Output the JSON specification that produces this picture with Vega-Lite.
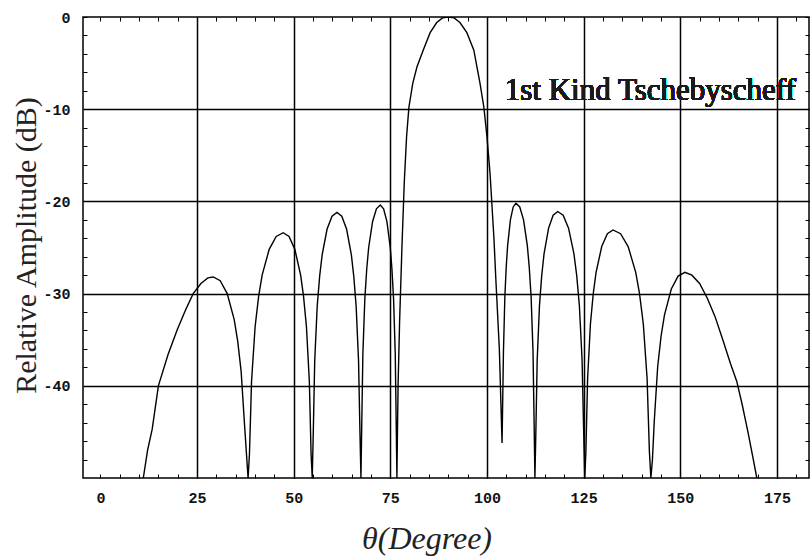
{
  "$schema": "https://vega.github.io/schema/vega-lite/v6.json",
  "width": 726,
  "height": 461,
  "autosize": {"type": "none"},
  "padding": {"left": 83, "top": 17, "right": 1, "bottom": 81},
  "background": "white",
  "config": {
    "view": {"stroke": "black", "strokeWidth": 1.5},
    "axis": {"domain": false, "tickColor": "black", "tickWidth": 1, "labelFont": "Liberation Mono", "labelFontWeight": "bold", "labelFontSize": 15, "labelColor": "#111"}
  },
  "data": {
    "values": [
      {"theta": 11.1, "dB": -50}, {"theta": 12.2, "dB": -47}, {"theta": 13.4, "dB": -44.7}, {"theta": 15, "dB": -40},
      {"theta": 17.5, "dB": -36.6}, {"theta": 19.9, "dB": -33.9}, {"theta": 22, "dB": -31.8}, {"theta": 24, "dB": -30},
      {"theta": 26, "dB": -28.9}, {"theta": 27.8, "dB": -28.3}, {"theta": 29.2, "dB": -28.2}, {"theta": 31, "dB": -28.6},
      {"theta": 32.8, "dB": -30}, {"theta": 34.6, "dB": -32.8}, {"theta": 35.5, "dB": -35.1}, {"theta": 36.4, "dB": -38.4},
      {"theta": 37.3, "dB": -44.3}, {"theta": 38.2, "dB": -50},
      {"theta": 38.56, "dB": -47.4}, {"theta": 39.1, "dB": -39.5}, {"theta": 40.02, "dB": -33.6}, {"theta": 40.93, "dB": -30.3},
      {"theta": 41.84, "dB": -28}, {"theta": 43.66, "dB": -25.2}, {"theta": 45.48, "dB": -23.8}, {"theta": 47.3, "dB": -23.4},
      {"theta": 48.8, "dB": -23.8}, {"theta": 50.3, "dB": -25.2}, {"theta": 51.8, "dB": -28}, {"theta": 52.55, "dB": -30.3},
      {"theta": 53.3, "dB": -33.6}, {"theta": 54.05, "dB": -39.5}, {"theta": 54.5, "dB": -47.4}, {"theta": 54.8, "dB": -50},
      {"theta": 55.06, "dB": -45.2}, {"theta": 55.44, "dB": -37.3}, {"theta": 56.08, "dB": -31.4}, {"theta": 56.72, "dB": -28.1},
      {"theta": 57.36, "dB": -25.8}, {"theta": 58.64, "dB": -23}, {"theta": 59.92, "dB": -21.6}, {"theta": 61.2, "dB": -21.2},
      {"theta": 62.44, "dB": -21.6}, {"theta": 63.68, "dB": -23}, {"theta": 64.92, "dB": -25.8}, {"theta": 65.54, "dB": -28.1},
      {"theta": 66.16, "dB": -31.4}, {"theta": 66.78, "dB": -37.3}, {"theta": 67.15, "dB": -45.2}, {"theta": 67.4, "dB": -50},
      {"theta": 67.6, "dB": -44.4}, {"theta": 67.9, "dB": -36.5}, {"theta": 68.4, "dB": -30.6}, {"theta": 68.9, "dB": -27.3},
      {"theta": 69.4, "dB": -25}, {"theta": 70.4, "dB": -22.2}, {"theta": 71.4, "dB": -20.8}, {"theta": 72.4, "dB": -20.4},
      {"theta": 73.26, "dB": -20.8}, {"theta": 74.12, "dB": -22.2}, {"theta": 74.98, "dB": -25}, {"theta": 75.41, "dB": -27.3},
      {"theta": 75.84, "dB": -30.6}, {"theta": 76.27, "dB": -36.5}, {"theta": 76.53, "dB": -44.4}, {"theta": 76.7, "dB": -50},
      {"theta": 77.0, "dB": -40}, {"theta": 77.4, "dB": -33}, {"theta": 78.0, "dB": -25}, {"theta": 78.6, "dB": -18},
      {"theta": 79.2, "dB": -13}, {"theta": 79.8, "dB": -9.8}, {"theta": 80.8, "dB": -7.2}, {"theta": 81.9, "dB": -5.4},
      {"theta": 83.5, "dB": -3.6}, {"theta": 85.3, "dB": -1.7}, {"theta": 87, "dB": -0.6}, {"theta": 88.5, "dB": -0.1},
      {"theta": 90, "dB": 0}, {"theta": 91.5, "dB": -0.1}, {"theta": 93, "dB": -0.6}, {"theta": 94.8, "dB": -1.7},
      {"theta": 96.6, "dB": -3.6}, {"theta": 98.2, "dB": -7.2}, {"theta": 99.2, "dB": -9.8}, {"theta": 100, "dB": -13},
      {"theta": 100.8, "dB": -17}, {"theta": 101.8, "dB": -24}, {"theta": 102.3, "dB": -28.5}, {"theta": 103.2, "dB": -36},
      {"theta": 103.9, "dB": -46.2},
      {"theta": 104.26, "dB": -36.3}, {"theta": 104.62, "dB": -30.4}, {"theta": 104.98, "dB": -27.1}, {"theta": 105.34, "dB": -24.8},
      {"theta": 106.06, "dB": -22}, {"theta": 106.78, "dB": -20.6}, {"theta": 107.5, "dB": -20.2}, {"theta": 108.48, "dB": -20.6},
      {"theta": 109.46, "dB": -22}, {"theta": 110.44, "dB": -24.8}, {"theta": 110.93, "dB": -27.1}, {"theta": 111.42, "dB": -30.4},
      {"theta": 111.91, "dB": -36.3}, {"theta": 112.2, "dB": -44.2}, {"theta": 112.4, "dB": -50},
      {"theta": 112.64, "dB": -45.1}, {"theta": 112.99, "dB": -37.2}, {"theta": 113.58, "dB": -31.3}, {"theta": 114.17, "dB": -28},
      {"theta": 114.76, "dB": -25.7}, {"theta": 115.94, "dB": -22.9}, {"theta": 117.12, "dB": -21.5}, {"theta": 118.3, "dB": -21.1},
      {"theta": 119.7, "dB": -21.5}, {"theta": 121.1, "dB": -22.9}, {"theta": 122.5, "dB": -25.7}, {"theta": 123.2, "dB": -28},
      {"theta": 123.9, "dB": -31.3}, {"theta": 124.6, "dB": -37.2}, {"theta": 125.02, "dB": -45.1}, {"theta": 125.3, "dB": -50},
      {"theta": 125.59, "dB": -47.1}, {"theta": 126.03, "dB": -39.2}, {"theta": 126.76, "dB": -33.3}, {"theta": 127.49, "dB": -30},
      {"theta": 128.22, "dB": -27.7}, {"theta": 129.68, "dB": -24.9}, {"theta": 131.14, "dB": -23.5}, {"theta": 132.6, "dB": -23.1},
      {"theta": 134.56, "dB": -23.5}, {"theta": 136.52, "dB": -24.9}, {"theta": 138.48, "dB": -27.7}, {"theta": 139.46, "dB": -30},
      {"theta": 140.44, "dB": -33.3}, {"theta": 141.42, "dB": -39.2}, {"theta": 142.01, "dB": -47.1}, {"theta": 142.4, "dB": -50},
      {"theta": 142.8, "dB": -48}, {"theta": 143.28, "dB": -43.8}, {"theta": 144.16, "dB": -37.9}, {"theta": 145.04, "dB": -34.6},
      {"theta": 145.92, "dB": -32.3}, {"theta": 147.68, "dB": -29.5}, {"theta": 149.44, "dB": -28.1}, {"theta": 151.2, "dB": -27.7},
      {"theta": 153, "dB": -28}, {"theta": 155, "dB": -28.9}, {"theta": 157, "dB": -30.5}, {"theta": 159, "dB": -32.5},
      {"theta": 161, "dB": -35}, {"theta": 163, "dB": -37.6}, {"theta": 164.6, "dB": -39.5}, {"theta": 166, "dB": -42},
      {"theta": 167.5, "dB": -45}, {"theta": 168.8, "dB": -47.8}, {"theta": 169.8, "dB": -50}
    ]
  },
  "resolve": {"scale": {"x": "independent", "y": "independent"}},
  "layer": [
    {
      "mark": {"type": "point", "opacity": 0},
      "encoding": {
        "x": {"field": "theta", "type": "quantitative", "scale": {"domain": [-4.5, 183.3], "nice": false, "zero": false},
          "axis": {"values": [25, 50, 75, 100, 125, 150, 175], "grid": true, "gridColor": "black", "gridWidth": 1.5, "gridOpacity": 1, "labels": false, "ticks": false, "domain": false, "title": null}},
        "y": {"field": "dB", "type": "quantitative", "scale": {"domain": [-50, 0], "nice": false, "zero": false},
          "axis": {"values": [-10, -20, -30, -40], "grid": true, "gridColor": "black", "gridWidth": 1.5, "gridOpacity": 1, "labels": false, "ticks": false, "domain": false, "title": null}}
      }
    },
    {
      "mark": {"type": "point", "opacity": 0},
      "encoding": {
        "x": {"field": "theta", "type": "quantitative", "scale": {"domain": [-4.5, 183.3], "nice": false, "zero": false},
          "axis": {"orient": "bottom", "values": [0, 5, 10, 15, 20, 25, 30, 35, 40, 45, 50, 55, 60, 65, 70, 75, 80, 85, 90, 95, 100, 105, 110, 115, 120, 125, 130, 135, 140, 145, 150, 155, 160, 165, 170, 175, 180], "grid": false, "labels": false, "ticks": true, "tickSize": -4, "title": null}},
        "y": {"field": "dB", "type": "quantitative", "scale": {"domain": [-50, 0], "nice": false, "zero": false},
          "axis": {"orient": "left", "values": [-48, -46, -44, -42, -40, -38, -36, -34, -32, -30, -28, -26, -24, -22, -20, -18, -16, -14, -12, -10, -8, -6, -4, -2, 0], "grid": false, "labels": false, "ticks": true, "tickSize": -4, "title": null}}
      }
    },
    {
      "mark": {"type": "text", "text": "1st Kind Tschebyscheff", "font": "Liberation Serif", "fontSize": 31, "fontWeight": "normal", "align": "left", "baseline": "alphabetic", "color": "#1a1a1a"},
      "encoding": {
        "x": {"datum": 104.6, "type": "quantitative", "scale": {"domain": [-4.5, 183.3], "nice": false, "zero": false},
          "axis": {"orient": "top", "values": [0, 5, 10, 15, 20, 25, 30, 35, 40, 45, 50, 55, 60, 65, 70, 75, 80, 85, 90, 95, 100, 105, 110, 115, 120, 125, 130, 135, 140, 145, 150, 155, 160, 165, 170, 175, 180], "grid": false, "labels": false, "ticks": true, "tickSize": -4, "title": null}},
        "y": {"datum": -9.05, "type": "quantitative", "scale": {"domain": [-50, 0], "nice": false, "zero": false},
          "axis": {"orient": "right", "values": [-48, -46, -44, -42, -40, -38, -36, -34, -32, -30, -28, -26, -24, -22, -20, -18, -16, -14, -12, -10, -8, -6, -4, -2, 0], "grid": false, "labels": false, "ticks": true, "tickSize": -4, "title": null}}
      }
    },
    {
      "mark": {"type": "line", "color": "black", "strokeWidth": 1.4, "clip": true},
      "encoding": {
        "x": {"field": "theta", "type": "quantitative", "scale": {"domain": [-4.5, 183.3], "nice": false, "zero": false},
          "axis": {"orient": "bottom", "values": [0, 25, 50, 75, 100, 125, 150, 175], "grid": false, "ticks": false, "labelPadding": 12, "labelBaseline": "top",
            "title": "θ(Degree)", "titleFont": "Liberation Serif", "titleFontStyle": "italic", "titleFontWeight": "normal", "titleFontSize": 32, "titleColor": "#222",
            "titleX": 343.5, "titleY": 70, "titleAlign": "center", "titleBaseline": "alphabetic"}},
        "y": {"field": "dB", "type": "quantitative", "scale": {"domain": [-50, 0], "nice": false, "zero": false},
          "axis": {"orient": "left", "values": [0, -10, -20, -30, -40], "grid": false, "ticks": false, "labelPadding": 13, "labelExpr": "toString(datum.value)",
            "title": "Relative Amplitude (dB)", "titleFont": "Liberation Serif", "titleFontWeight": "normal", "titleFontSize": 30, "titleColor": "#222",
            "titleX": -48, "titleY": 228, "titleAngle": -90, "titleAlign": "center", "titleBaseline": "alphabetic"}}
      }
    }
  ]
}
